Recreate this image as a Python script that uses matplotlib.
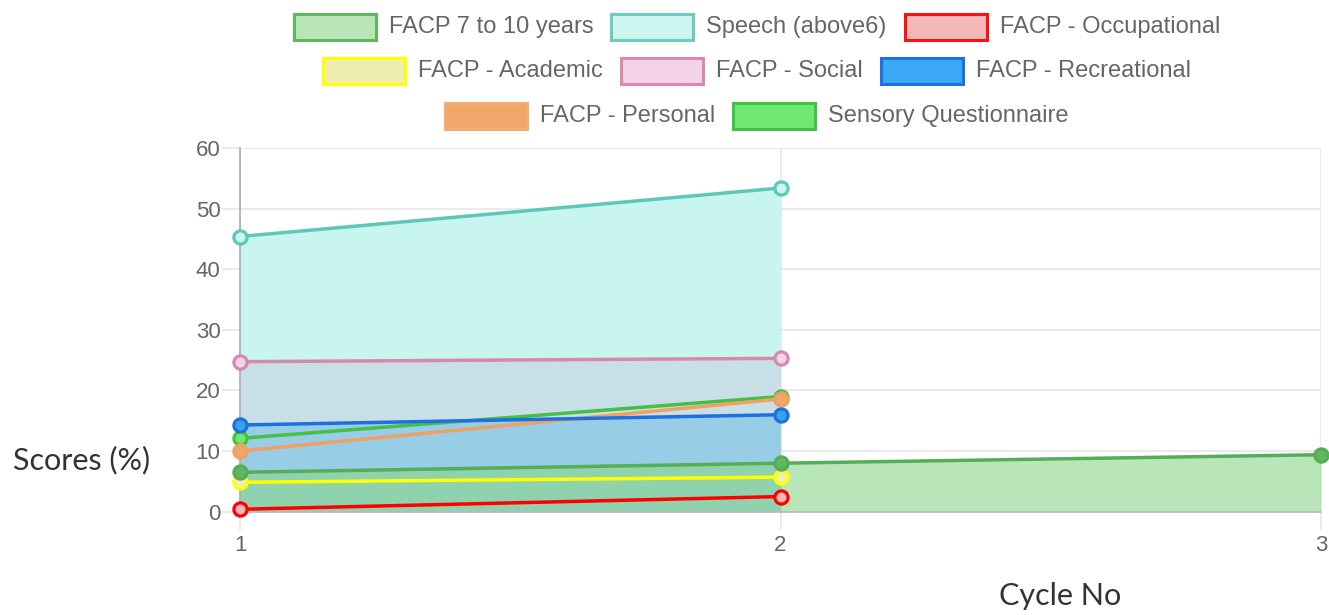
import numpy as np
import matplotlib
matplotlib.use("Agg")
import matplotlib.pyplot as plt
from matplotlib.patches import Rectangle

# ---- data ----
cycles = [1, 2, 3]
facp_7_10 = [6.5, 8.0, 9.4]
speech = [45.4, 53.4, None]
occupational = [0.4, 2.5, None]
academic = [4.85, 5.7, None]
social = [24.75, 25.3, None]
recreational = [14.3, 16.0, None]
personal = [10.0, 18.6, None]
sensory = [12.1, 19.0, None]

labels = ["FACP 7 to 10 years", "Speech (above6)", "FACP - Occupational",
          "FACP - Academic", "FACP - Social", "FACP - Recreational",
          "FACP - Personal", "Sensory Questionnaire"]
y_ticks = [0, 10, 20, 30, 40, 50, 60]
x_label = "Cycle No"
y_label = "Scores (%)"

series = [facp_7_10, speech, occupational, academic, social, recreational, personal, sensory]
line_colors = ["#55ad58", "#5ec8b8", "#ff0000", "#ffff00", "#d68aaa", "#1f6fe0", "#f0a060", "#45c045"]
legend_fill = ["#b8e6b8", "#cdf5f0", "#f5b8b8", "#eeeeb0", "#f4d2ea", "#3aa8f5", "#efa76a", "#6ee870"]
legend_edge = ["#5fb760", "#6cccbf", "#ff1010", "#ffff00", "#d98aaa", "#1e6fe0", "#f5ac70", "#45c045"]
marker_fill = ["#5fb760", "#cdf5f0", "#f5b8b8", "#eeeeb0", "#f4d2ea", "#36a2eb", "#efa76a", "#6ee870"]
# area fills (color, alpha, zorder) ; None = no fill
area = [((0.54, 0.84, 0.54), 0.6, 1.6), ((0.79, 0.96, 0.94), 1.0, 1.1), None, None,
        ((201/255, 175/255, 216/255), 0.3, 1.2), ((90/255, 186/255, 228/255), 0.45, 1.3), None, None]

W, H = 1329, 615
fig = plt.figure(figsize=(W / 100, H / 100), dpi=100)
fig.patch.set_facecolor("white")

def fx(px):
    return px / W

def fy(py):
    return 1 - py / H

ax = fig.add_axes([fx(240), fy(511.7), fx(1321) - fx(240), fy(148) - fy(511.7)])
ax.set_xlim(1, 3)
ax.set_ylim(0, 60)

x = np.array(cycles, dtype=float)
for i, s in enumerate(series):
    y = np.array([np.nan if v is None else v for v in s], dtype=float)
    m = ~np.isnan(y)
    if area[i] is not None:
        c, a, z = area[i]
        ax.fill_between(x[m], 0, y[m], color=c, alpha=a, zorder=z, linewidth=0)
    ax.plot(x[m], y[m], color=line_colors[i], lw=2.5, zorder=3 + (8 - i) * 0.1,
            marker="o", ms=9.5, mfc=marker_fill[i], mec=line_colors[i], mew=2.3,
            clip_on=False)

# grid & axes styling
ax.set_yticks(y_ticks)
ax.set_xticks(cycles)
ax.grid(True, color="#e6e6e6", lw=1.2, zorder=0)
ax.set_axisbelow(True)
for sp in ["top", "right"]:
    ax.spines[sp].set_visible(False)
ax.spines["left"].set_color("#aaaaaa")
ax.spines["bottom"].set_color("#bbbbbb")
ax.spines["left"].set_linewidth(1.2)
ax.spines["bottom"].set_linewidth(1.2)
ax.tick_params(axis="both", colors="#e6e6e6", labelcolor="#666666", length=13, width=1.2,
               labelsize=16)
ax.tick_params(axis="y", pad=1)
ax.tick_params(axis="x", pad=4)
for lbl in ax.get_xticklabels() + ax.get_yticklabels():
    lbl.set_fontfamily("Liberation Sans")

fig.text(fx(82), fy(460), y_label, ha="center", va="center", fontsize=22,
         family="Lato", fontweight="normal", color="#333333")
fig.text(fx(1060), fy(596), x_label, ha="center", va="center", fontsize=22,
         family="Lato", fontweight="normal", color="#333333")

# ---- legend (Chart.js style, centered rows) ----
rows = [[0, 1, 2], [3, 4, 5], [6, 7]]
row_y = [27, 71, 116]
center_x = 757
box_w, box_h, gap, pad = 82, 26, 13, 18
renderer = fig.canvas.get_renderer()
for r, items in enumerate(rows):
    texts = []
    widths = []
    for i in items:
        t = fig.text(0, fy(row_y[r]), labels[i], ha="left", va="center", fontsize=17,
                     family="Liberation Sans", color="#666666")
        texts.append(t)
        widths.append(t.get_window_extent(renderer).width)
    total = sum(box_w + gap + w for w in widths) + pad * (len(items) - 1)
    cur = center_x - total / 2
    for t, i, w in zip(texts, items, widths):
        rect = Rectangle((fx(cur), fy(row_y[r] + box_h / 2)), box_w / W, box_h / H,
                         transform=fig.transFigure, facecolor=legend_fill[i],
                         edgecolor=legend_edge[i], lw=2.2)
        fig.add_artist(rect)
        t.set_x(fx(cur + box_w + gap))
        cur += box_w + gap + w + pad

fig.savefig("out.png", dpi=100, facecolor="white")
